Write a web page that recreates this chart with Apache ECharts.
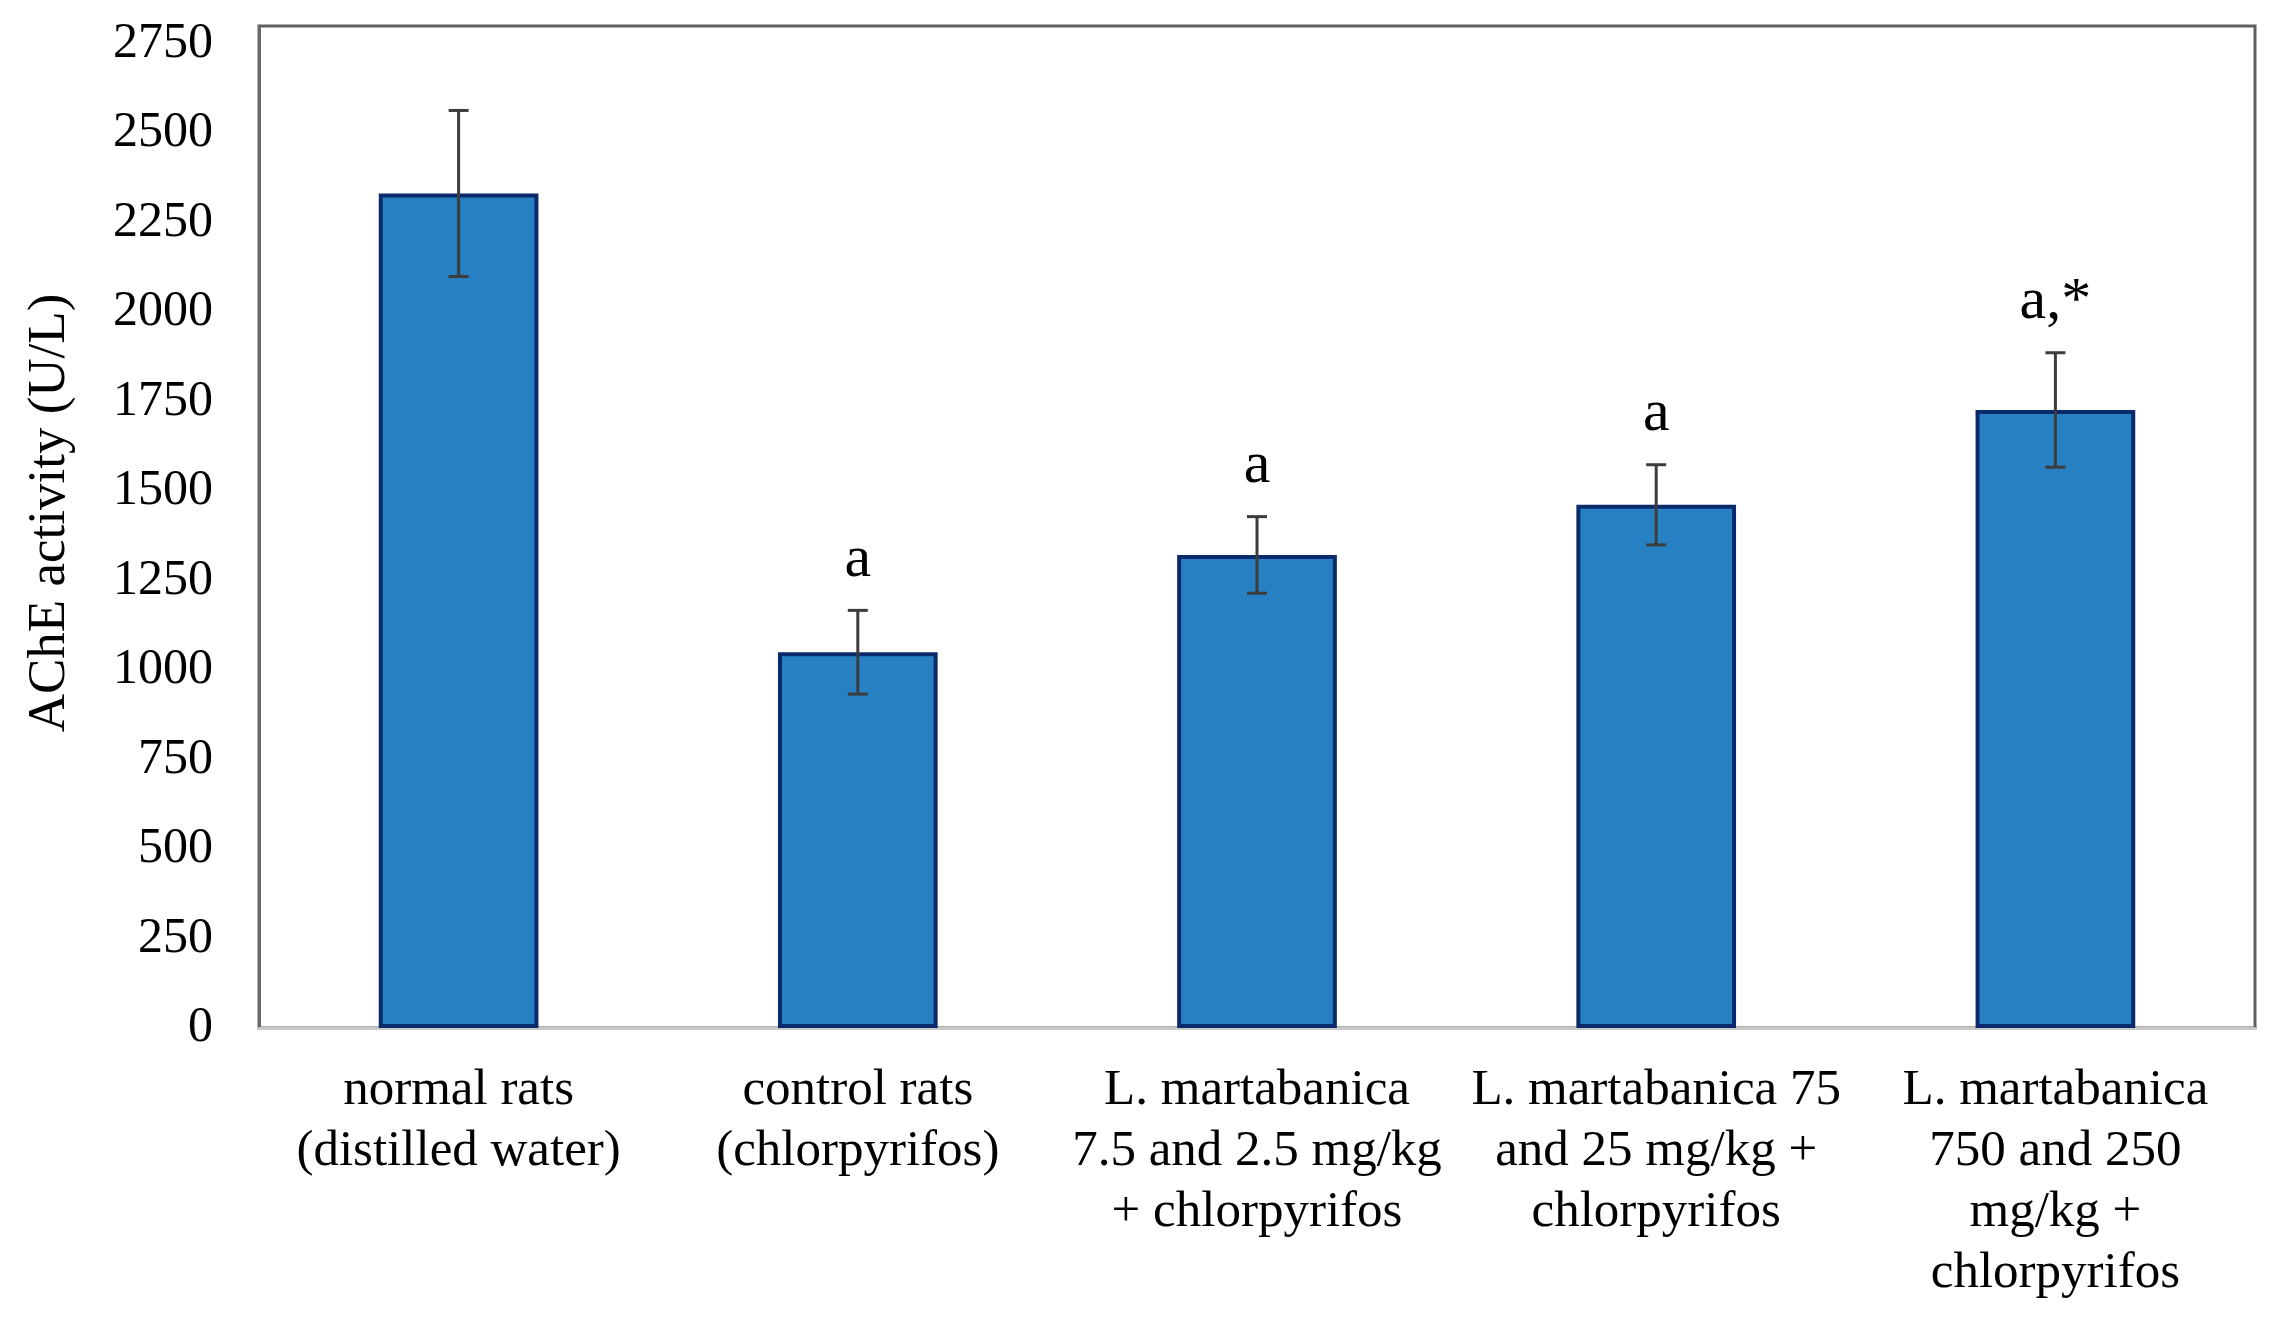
<!DOCTYPE html>
<html>
<head>
<meta charset="utf-8">
<script src="https://cdn.jsdelivr.net/npm/echarts@6/dist/echarts.min.js"></script>
<style>
  html, body { margin: 0; padding: 0; background: #ffffff; }
  #chart { width: 2291px; height: 1339px; }
</style>
</head>
<body>
<div id="chart"></div>
<script>
const categories = [
  "normal rats\n(distilled water)",
  "control rats\n(chlorpyrifos)",
  "L. martabanica\n7.5 and 2.5 mg/kg\n+ chlorpyrifos",
  "L. martabanica 75\nand 25 mg/kg +\nchlorpyrifos",
  "L. martabanica\n750 and 250\nmg/kg +\nchlorpyrifos"
];
const meanValues = [2332, 1050, 1322, 1462, 1727];
const errorValues = [232, 117, 107, 112, 160];
const annotations = ["", "a", "a", "a", "a,*"];
const yTicks = { min: 0, max: 2800, interval: 250 };

const serif = "'Liberation Serif', 'Times New Roman', serif";
const chart = echarts.init(document.getElementById('chart'), null, { renderer: 'canvas' });

const errData = meanValues.map((v, i) => [i, v - errorValues[i], v + errorValues[i]]);

chart.setOption({
  backgroundColor: '#ffffff',
  animation: false,
  grid: {
    left: 259, right: 36, top: 26, bottom: 311,
    show: true, borderColor: '#5f5f5f', borderWidth: 3, backgroundColor: 'transparent'
  },
  xAxis: {
    type: 'category',
    data: categories,
    axisTick: { show: false },
    axisLine: { show: true, lineStyle: { color: '#c8c8c8', width: 3 } },
    axisLabel: {
      interval: 0, margin: 32, color: '#000000',
      fontFamily: serif, fontSize: 51, lineHeight: 61
    }
  },
  yAxis: {
    type: 'value',
    min: yTicks.min, max: yTicks.max, interval: yTicks.interval,
    name: 'AChE activity (U/L)',
    nameLocation: 'middle', nameGap: 182,
    nameTextStyle: { fontFamily: serif, fontSize: 53, color: '#000000', padding: [0, 0, 0, 28] },
    splitLine: { show: false },
    axisTick: { show: false },
    axisLine: { show: true, lineStyle: { color: '#6a6a6a', width: 3 } },
    axisLabel: {
      showMaxLabel: false, margin: 46, color: '#000000',
      fontFamily: serif, fontSize: 50,
      formatter: function (v) { return String(v); }
    }
  },
  series: [
    {
      type: 'bar',
      data: meanValues,
      barWidth: '40%',
      itemStyle: { color: '#2680c2', borderColor: '#0b2a6b', borderWidth: 4 }
    },
    {
      type: 'custom',
      data: errData,
      z: 10,
      renderItem: function (params, api) {
        const i = api.value(0);
        const lo = api.coord([i, api.value(1)]);
        const hi = api.coord([i, api.value(2)]);
        const cap = 10;
        const style = { stroke: '#3c3c3c', lineWidth: 3 };
        const children = [
          { type: 'line', shape: { x1: hi[0], y1: hi[1], x2: lo[0], y2: lo[1] }, style: style },
          { type: 'line', shape: { x1: hi[0] - cap, y1: hi[1], x2: hi[0] + cap, y2: hi[1] }, style: style },
          { type: 'line', shape: { x1: lo[0] - cap, y1: lo[1], x2: lo[0] + cap, y2: lo[1] }, style: style }
        ];
        const txt = annotations[params.dataIndex];
        if (txt) {
          children.push({
            type: 'text',
            style: {
              text: txt, x: hi[0], y: hi[1] - 20,
              align: 'center', verticalAlign: 'bottom',
              font: '60px ' + serif, fill: '#000000'
            }
          });
        }
        return { type: 'group', children: children };
      }
    }
  ]
});
</script>
</body>
</html>
